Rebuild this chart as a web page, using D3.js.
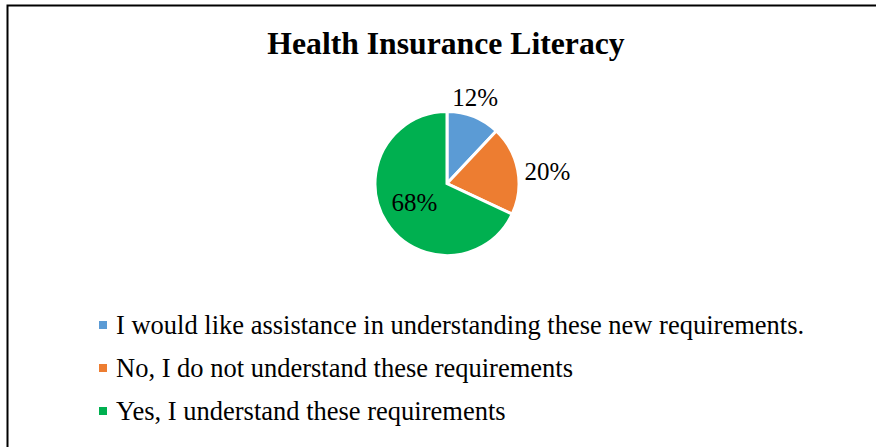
<!DOCTYPE html>
<html>
<head>
<meta charset="utf-8">
<script src="https://cdn.jsdelivr.net/npm/d3@7"></script>
<style>
  body { margin: 0; background: #fff; }
  #drawing-area { width: 876px; height: 447px; }
  text { font-family: "Liberation Serif", "Times New Roman", serif; }
</style>
</head>
<body>
<div id="drawing-area"></div>
<script>
var categories = [
    "I would like assistance in understanding these new requirements.",
    "No, I do not understand these requirements",
    "Yes, I understand these requirements"
];
var values = [12, 20, 68];
var colors = ["#5b9bd5", "#ed7d31", "#00b050"];
var title = "Health Insurance Literacy";

var sx = 876, sy = 447;
var svg = d3.select('#drawing-area').append('svg').attr('width', sx).attr('height', sy);

// frame (only left and top edges are visible in the crop)
svg.append("path")
    .attr("d", "M7.5 447 L7.5 5.5 L876 5.5")
    .attr("fill", "none")
    .attr("stroke", "#000")
    .attr("stroke-width", 2);

svg.append("text")
    .attr("x", 446).attr("y", 54)
    .attr("text-anchor", "middle")
    .attr("font-size", 31.7)
    .attr("font-weight", "bold")
    .text(title);

var cx = 447, cy = 183.5, r = 72;
var pie = d3.pie().sort(null).value(function (d) { return d; });
var arc = d3.arc().innerRadius(0).outerRadius(r);
var arcs = pie(values);

var g = svg.append("g").attr("transform", "translate(" + cx + "," + cy + ")");
g.selectAll("path").data(arcs).enter().append("path")
    .attr("d", arc)
    .attr("fill", function (d, i) { return colors[i]; })
    .attr("stroke", "#fff")
    .attr("stroke-width", 3);

// data labels: first two outside, last inside
var outer = d3.arc().innerRadius(r + 18).outerRadius(r + 18);
var inner = d3.arc().innerRadius(r * 0.62).outerRadius(r * 0.62);
var nudge = [[-5, -3], [12, 5], [5, -5]];
g.selectAll("text.lbl").data(arcs).enter().append("text")
    .attr("class", "lbl")
    .attr("transform", function (d, i) {
        var c = (i < 2 ? outer : inner).centroid(d);
        return "translate(" + (c[0] + nudge[i][0]) + "," + (c[1] + nudge[i][1]) + ")";
    })
    .attr("text-anchor", "middle")
    .attr("dy", "0.35em")
    .attr("font-size", 25)
    .text(function (d) { return d.value + "%"; });

// legend
var ly = d3.scalePoint().domain(d3.range(categories.length)).range([334, 420]);
var leg = svg.selectAll("g.leg").data(categories).enter().append("g")
    .attr("class", "leg")
    .attr("transform", function (d, i) { return "translate(99," + ly(i) + ")"; });
leg.append("rect")
    .attr("x", 0).attr("y", -13).attr("width", 8).attr("height", 8)
    .attr("fill", function (d, i) { return colors[i]; });
leg.append("text")
    .attr("x", 17).attr("y", 0)
    .attr("font-size", 26.5)
    .text(function (d) { return d; });
</script>
</body>
</html>
